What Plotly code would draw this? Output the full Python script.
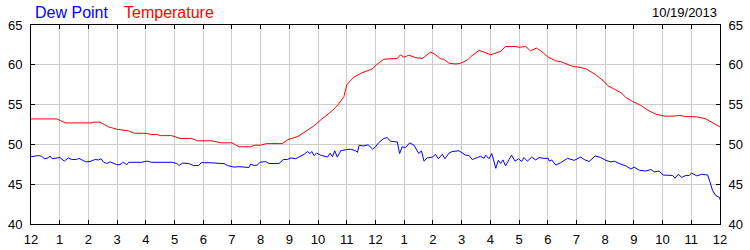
import plotly.graph_objects as go

# Hours since midnight (0..24) and values
temp_hours = [0.0, 0.9, 1.2, 2.1, 2.2, 2.4, 2.7, 3.0, 3.4, 3.6, 4.0, 4.2, 4.4, 4.5, 4.9,
              5.2, 5.6, 5.8, 6.3, 6.6, 7.0, 7.25, 7.65, 7.8, 8.0, 8.2, 8.75, 8.95, 9.3,
              9.6, 9.85, 10.1, 10.5, 10.7, 10.9, 11.0, 11.25, 11.5, 11.8, 11.9, 12.0,
              12.29, 12.76, 12.87, 12.99, 13.16, 13.4, 13.63, 13.92, 14.1, 14.27, 14.38,
              14.56, 14.79, 14.97, 15.2, 15.31, 15.6, 15.78, 16.01, 16.36, 16.53, 16.88,
              17.0, 17.23, 17.4, 17.6, 17.76, 18.02, 18.28, 18.45, 18.86, 19.09, 19.33,
              19.67, 19.97, 20.08, 20.37, 20.55, 20.72, 20.95, 21.24, 21.53, 21.77, 22.06,
              22.41, 22.58, 22.81, 23.22, 23.51, 23.69, 24.0]
temperature = [53.2, 53.2, 52.7, 52.7, 52.8, 52.8, 52.2, 51.9, 51.7, 51.4, 51.4, 51.25, 51.25,
               51.1, 51.1, 50.75, 50.75, 50.45, 50.45, 50.2, 50.2, 49.7, 49.7, 49.9, 49.9,
               50.1, 50.1, 50.6, 51.0, 51.75, 52.3, 53.1, 54.25, 55.0, 56.0, 57.5, 58.45,
               58.95, 59.3, 59.5, 59.9, 60.7, 60.8, 61.25, 60.95, 61.2, 60.9, 60.8, 61.6,
               61.25, 60.75, 60.7, 60.2, 60.1, 60.2, 60.6, 61.0, 61.8, 61.6, 61.25, 61.7,
               62.3, 62.3, 62.2, 62.3, 61.75, 62.1, 61.75, 60.95, 60.5, 60.4, 59.8, 59.7,
               59.5, 58.75, 57.9, 57.4, 56.9, 56.5, 55.9, 55.4, 54.9, 54.2, 53.8, 53.55,
               53.55, 53.65, 53.5, 53.45, 53.2, 52.8, 52.2]

dew_hours = [0.0, 0.26, 0.37, 0.47, 0.6, 0.66, 0.74, 0.9, 1.01, 1.16, 1.3, 1.42, 1.59, 1.67,
             1.77, 1.91, 2.06, 2.23, 2.35, 2.44, 2.52, 2.64, 2.76, 2.87, 2.99, 3.1, 3.19,
             3.28, 3.34, 3.4, 3.86, 4.03, 4.21, 4.91, 5.08, 5.16, 5.28, 5.49, 5.66, 5.84,
             5.93, 6.05, 6.26, 6.6, 6.72, 6.84, 7.07, 7.24, 7.42, 7.59, 7.65, 7.77, 7.88,
             7.98, 8.17, 8.29, 8.64, 8.79, 8.93, 9.05, 9.22, 9.34, 9.51, 9.63, 9.72, 9.78,
             9.86, 9.95, 10.09, 10.33, 10.42, 10.5, 10.58, 10.67, 10.79, 11.0, 11.14, 11.31,
             11.37, 11.43, 11.58, 11.74, 11.9, 12.0, 12.12, 12.29, 12.41, 12.52, 12.76,
             12.84, 12.93, 13.05, 13.19, 13.34, 13.45, 13.51, 13.6, 13.69, 13.8, 13.98,
             14.09, 14.19, 14.33, 14.42, 14.56, 14.67, 14.91, 15.02, 15.14, 15.26, 15.37,
             15.55, 15.66, 15.78, 15.84, 15.95, 16.05, 16.13, 16.19, 16.28, 16.36, 16.44,
             16.53, 16.65, 16.74, 16.86, 16.98, 17.09, 17.17, 17.29, 17.44, 17.58, 17.7,
             17.87, 18.02, 18.05, 18.14, 18.28, 18.45, 18.69, 18.92, 19.15, 19.27, 19.44,
             19.65, 19.85, 20.02, 20.2, 20.31, 20.49, 20.72, 20.9, 21.01, 21.19, 21.42,
             21.59, 21.71, 21.88, 22.02, 22.35, 22.43, 22.55, 22.67, 22.81, 22.93, 23.01,
             23.19, 23.37, 23.57, 23.66, 23.74, 23.86, 23.98, 24.0]
dew_point = [48.45, 48.6, 48.5, 48.2, 48.3, 48.55, 48.2, 48.3, 48.35, 47.9, 48.3, 48.1, 48.1,
             48.25, 48.1, 47.8, 47.85, 48.1, 48.05, 48.2, 47.8, 47.6, 47.8, 47.6, 47.45,
             47.45, 47.75, 47.6, 47.45, 47.75, 47.75, 47.9, 47.75, 47.75, 47.6, 47.35, 47.65,
             47.6, 47.35, 47.35, 47.7, 47.7, 47.7, 47.6, 47.6, 47.35, 47.15, 47.2, 47.1,
             47.1, 47.5, 47.35, 47.4, 47.75, 47.85, 47.6, 47.6, 48.1, 48.1, 48.3, 48.2, 48.4,
             48.75, 49.1, 48.85, 49.1, 48.6, 48.9, 48.65, 48.4, 48.9, 48.45, 49.2, 48.4,
             49.2, 49.35, 49.4, 49.2, 49.0, 49.9, 49.8, 49.95, 49.4, 49.7, 50.25, 50.75,
             50.85, 50.4, 50.3, 48.85, 49.7, 49.6, 50.2, 49.9, 49.2, 48.85, 49.2, 47.9, 48.3,
             48.4, 48.75, 48.2, 48.75, 48.2, 48.9, 49.1, 49.2, 48.9, 48.65, 48.6, 48.1,
             48.35, 48.5, 48.25, 48.65, 48.2, 48.85, 47.8, 47.0, 48.0, 47.6, 48.05, 47.3,
             48.1, 48.65, 47.9, 48.2, 47.85, 48.35, 47.9, 48.4, 48.05, 48.35, 48.25, 48.25,
             47.9, 48.05, 47.4, 47.7, 48.25, 48.0, 48.4, 48.1, 47.85, 48.55, 48.35, 48.0,
             47.8, 47.9, 47.6, 47.3, 46.9, 47.15, 46.75, 46.65, 46.85, 46.55, 46.65, 46.15,
             46.1, 45.75, 46.25, 45.85, 46.1, 46.1, 46.4, 46.05, 46.25, 46.15, 45.2, 44.2,
             43.55, 43.35, 43.05]

tick_hours = list(range(25))
tick_labels = ["12", "1", "2", "3", "4", "5", "6", "7", "8", "9", "10", "11",
               "12", "1", "2", "3", "4", "5", "6", "7", "8", "9", "10", "11", "12"]
y_ticks = [40, 45, 50, 55, 60, 65]
date_label = "10/19/2013"

FONT = "Arial, Liberation Sans, sans-serif"
W, H = 750, 250
ML, MR, MT, MB = 31, 30, 25, 26
plot_w = W - ML - MR

fig = go.Figure()
fig.add_trace(go.Scatter(x=dew_hours, y=dew_point, mode="lines", name="Dew Point",
                         line=dict(color="#0000ff", width=1), showlegend=False))
fig.add_trace(go.Scatter(x=temp_hours, y=temperature, mode="lines", name="Temperature",
                         line=dict(color="#ff0000", width=1), showlegend=False))
fig.add_trace(go.Scatter(x=[], y=[], yaxis="y2", showlegend=False, hoverinfo="skip"))

axis_common = dict(showline=True, linecolor="black", linewidth=1, ticks="inside",
                   ticklen=4, tickcolor="black", zeroline=False, automargin=False,
                   tickfont=dict(family=FONT, size=13, color="black"))

fig.update_layout(
    width=W, height=H,
    margin=dict(l=ML, r=MR, t=MT, b=MB, pad=0, autoexpand=False),
    paper_bgcolor="white", plot_bgcolor="white",
    xaxis=dict(range=[0, 24], tickmode="array", tickvals=tick_hours, ticktext=tick_labels,
               showgrid=True, gridcolor="#cccccc", gridwidth=1, mirror="ticks",
               ticklabelstandoff=3, **axis_common),
    yaxis=dict(range=[40, 65], tickmode="array", tickvals=y_ticks,
               showgrid=True, gridcolor="#cccccc", gridwidth=1, mirror="ticks",
               ticklabelstandoff=5, **axis_common),
    yaxis2=dict(range=[40, 65], tickmode="array", tickvals=y_ticks, overlaying="y",
                side="right", showgrid=False, ticklabelstandoff=5, **axis_common),
    annotations=[
        dict(text="Dew Point", xref="paper", yref="paper", x=(33 - ML) / plot_w, y=1,
             yshift=13, xanchor="left", yanchor="middle", showarrow=False,
             font=dict(family=FONT, size=16, color="#0000ff")),
        dict(text="Temperature", xref="paper", yref="paper", x=(122 - ML) / plot_w, y=1,
             yshift=13, xanchor="left", yanchor="middle", showarrow=False,
             font=dict(family=FONT, size=16, color="#ff0000")),
        dict(text=date_label, xref="paper", yref="paper", x=1, xshift=-1, y=1,
             yshift=13, xanchor="right", yanchor="middle", showarrow=False,
             font=dict(family=FONT, size=13, color="black")),
    ],
)

fig.write_html("out.html")
